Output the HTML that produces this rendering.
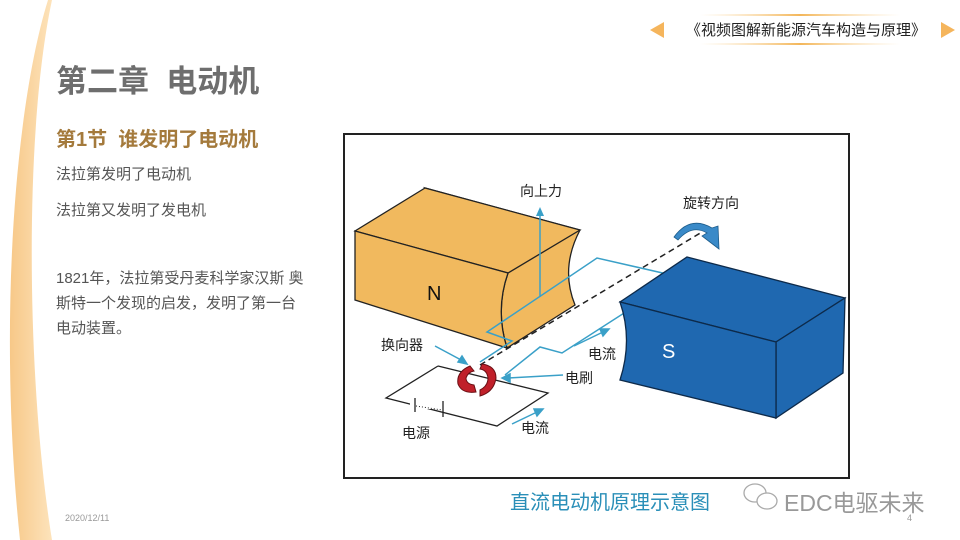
<!DOCTYPE html>
<html><head><meta charset="utf-8"><style>
html,body{margin:0;padding:0;background:#fff}
body{width:960px;height:540px;position:relative;overflow:hidden;font-family:"Liberation Sans","Noto Sans CJK SC",sans-serif}
.t{position:absolute;white-space:nowrap}
</style></head><body>
<svg width="960" height="540" style="position:absolute;left:0;top:0">
<defs><linearGradient id="bg" x1="0" x2="1"><stop offset="0" stop-color="#f7c888"/><stop offset="1" stop-color="#fde3bb"/></linearGradient>
<linearGradient id="ln" x1="0" x2="1"><stop offset="0" stop-color="#fbd9a0" stop-opacity="0"/><stop offset=".5" stop-color="#f3b65a"/><stop offset="1" stop-color="#fbd9a0" stop-opacity="0"/></linearGradient></defs>
<path d="M48,0 C14,110 -2,330 20,540 L52,540 C26,380 24,130 52,0 Z" fill="url(#bg)"/>
<path d="M650,30 L664,22 L664,38 Z" fill="#f5b55c"/>
<path d="M955,30 L941,22 L941,38 Z" fill="#f5b55c"/>
<rect x="700" y="14" width="200" height="2" fill="url(#ln)"/>
<rect x="700" y="43" width="200" height="2" fill="url(#ln)"/>
<rect x="344" y="134" width="505" height="344" fill="#fff" stroke="#222" stroke-width="2"/>
<path d="M425,188 L580,230 Q560,268 575,305 L507,348 Q495,310 508,273 Z" fill="#f1b95e" stroke="#222" stroke-width="1.3"/>
<path d="M425,188 L355,231 L508,273 L580,230 Z" fill="#f1b95e" stroke="#222" stroke-width="1.3"/>
<path d="M355,231 L508,273 Q495,310 507,348 L355,300 Z" fill="#f1b95e" stroke="#222" stroke-width="1.3"/>
<line x1="480" y1="365" x2="702" y2="232" stroke="#222" stroke-width="1.5" stroke-dasharray="6,4"/>
<polyline points="480,362 512,341 487,332 597,258 680,277 562,353 540,347 505,375" fill="none" stroke="#3aa0c8" stroke-width="1.5"/>
<line x1="540" y1="297" x2="540" y2="214" stroke="#3aa0c8" stroke-width="1.5"/>
<path d="M536,216 L540,207 L544,216 Z" fill="#3aa0c8"/>
<path d="M687,257 L845,298 L776,342 L620,302 Z" fill="#1f68b0" stroke="#0d2a4a" stroke-width="1.3"/>
<path d="M845,298 L843,373 L776,418 L776,342 Z" fill="#1f68b0" stroke="#0d2a4a" stroke-width="1.3"/>
<path d="M620,302 L776,342 L776,418 L620,380 Q633,340 620,302 Z" fill="#1f68b0" stroke="#0d2a4a" stroke-width="1.3"/>
<path d="M674,237 Q690,215 712,228 L718,226 L719,249 L702,236 L707,233 Q692,224 678,240 Z" fill="#3a8ac8" stroke="#1d5c8a" stroke-width=".8"/>
<polyline points="438,366 548,393 497,426 386,398 438,366" fill="none" stroke="#222" stroke-width="1.3"/>
<rect x="410" y="400" width="38" height="9" fill="#fff"/>
<line x1="415" y1="398" x2="415" y2="412" stroke="#222" stroke-width="1.3"/>
<line x1="443" y1="401" x2="443" y2="417" stroke="#222" stroke-width="1.3"/>
<line x1="416" y1="406" x2="442" y2="410" stroke="#222" stroke-dasharray="1,2"/>
<path d="M470,366 Q456,372 458,384 Q462,394 476,392 L474,385 Q466,384 466,378 Q468,372 474,371 Z" fill="#c0202a" stroke="#6a0f14"/>
<path d="M482,364 Q496,366 496,378 Q494,392 480,396 L480,390 Q488,386 488,378 Q487,370 480,369 Z" fill="#c0202a" stroke="#6a0f14"/>
<g stroke="#3aa0c8" stroke-width="1.5" fill="#3aa0c8">
<line x1="435" y1="346" x2="463" y2="361"/><path d="M467,364 L458,362 L462,356 Z"/>
<line x1="563" y1="375" x2="507" y2="378"/><path d="M502,378 L510,374 L510,382 Z"/>
<line x1="574" y1="346" x2="603" y2="332"/><path d="M609,329 L600,329 L603,336 Z"/>
<line x1="512" y1="424" x2="537" y2="412"/><path d="M543,409 L534,409 L537,416 Z"/>
</g>
<g fill="none" stroke="#aaa" stroke-width="1.3">
<ellipse cx="755" cy="493" rx="11" ry="9"/><ellipse cx="767" cy="501" rx="10" ry="8" fill="#fff"/>
</g>
</svg>
<div class="t" style="left:56px;top:56px;font-size:31px;font-weight:bold;color:#6e6e6e">第二章&nbsp;&nbsp;电动机</div>
<div class="t" style="left:686px;top:19px;font-size:15px;color:#222">《视频图解新能源汽车构造与原理》</div>
<div class="t" style="left:56px;top:123px;font-size:20px;font-weight:bold;color:#a47a3c">第1节&nbsp;&nbsp;谁发明了电动机</div>
<div class="t" style="left:56px;top:163px;font-size:15px;color:#555">法拉第发明了电动机</div>
<div class="t" style="left:56px;top:199px;font-size:15px;color:#555">法拉第又发明了发电机</div>
<div class="t" style="left:56px;top:266px;font-size:15px;color:#555;line-height:25px">1821年，法拉第受丹麦科学家汉斯 奥<br>斯特一个发现的启发，发明了第一台<br>电动装置。</div>
<div class="t" style="left:65px;top:513px;font-size:9px;color:#999">2020/12/11</div>
<div class="t" style="left:907px;top:513px;font-size:9px;color:#999">4</div>
<div class="t" style="left:520px;top:181px;font-size:14px;color:#222">向上力</div>
<div class="t" style="left:683px;top:193px;font-size:14px;color:#222">旋转方向</div>
<div class="t" style="left:427px;top:283px;font-size:20px;color:#111">N</div>
<div class="t" style="left:662px;top:341px;font-size:20px;color:#fff">S</div>
<div class="t" style="left:381px;top:335px;font-size:14px;color:#222">换向器</div>
<div class="t" style="left:588px;top:344px;font-size:14px;color:#222">电流</div>
<div class="t" style="left:565px;top:368px;font-size:14px;color:#222">电刷</div>
<div class="t" style="left:402px;top:423px;font-size:14px;color:#222">电源</div>
<div class="t" style="left:521px;top:418px;font-size:14px;color:#222">电流</div>
<div class="t" style="left:510px;top:486px;font-size:20px;color:#2a8fb8">直流电动机原理示意图</div>
<div class="t" style="left:784px;top:484px;font-size:23px;color:#999">EDC电驱未来</div>
</body></html>
